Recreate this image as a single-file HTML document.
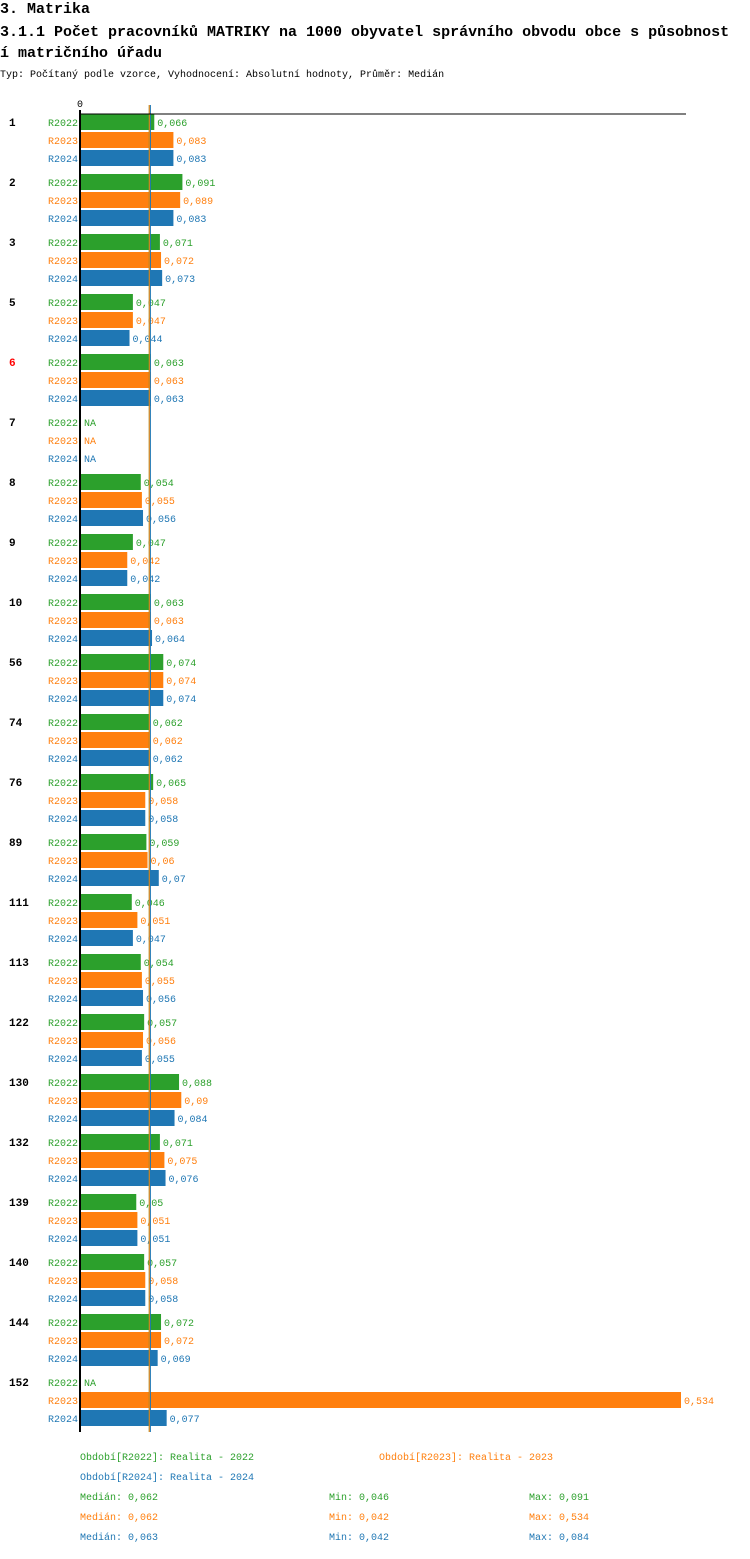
<!DOCTYPE html>
<html><head><meta charset="utf-8"><style>
body{margin:0;background:#fff;width:750px;height:1554px;overflow:hidden;font-family:"Liberation Mono","DejaVu Sans Mono",monospace}
svg text{font-family:"Liberation Mono","DejaVu Sans Mono",monospace}
</style></head><body>
<svg id="c" width="750" height="1554">
<text x="0" y="13" font-size="15" font-weight="bold">3. Matrika</text>
<text x="0" y="36" font-size="15" font-weight="bold">3.1.1 Počet pracovníků MATRIKY na 1000 obyvatel správního obvodu obce s působnost</text>
<text x="0" y="57" font-size="15" font-weight="bold">í matričního úřadu</text>
<text x="0" y="77" font-size="10">Typ: Počítaný podle vzorce, Vyhodnocení: Absolutní hodnoty, Průměr: Medián</text>
<g id="g"></g>
</svg>
<script>
const categories=["1","2","3","5","6","7","8","9","10","56","74","76","89","111","113","122","130","132","139","140","144","152"];
const series=["R2022","R2023","R2024"];
const colors=["#2ca02c","#ff7f0e","#1f77b4"];
const v2022=[0.066,0.091,0.071,0.047,0.063,null,0.054,0.047,0.063,0.074,0.062,0.065,0.059,0.046,0.054,0.057,0.088,0.071,0.05,0.057,0.072,null];
const v2023=[0.083,0.089,0.072,0.047,0.063,null,0.055,0.042,0.063,0.074,0.062,0.058,0.06,0.051,0.055,0.056,0.09,0.075,0.051,0.058,0.072,0.534];
const v2024=[0.083,0.083,0.073,0.044,0.063,null,0.056,0.042,0.064,0.074,0.062,0.058,0.07,0.047,0.056,0.055,0.084,0.076,0.051,0.058,0.069,0.077];
const medians=[0.062,0.062,0.063];
const mins=[0.046,0.042,0.042];
const maxs=[0.091,0.534,0.084];
const highlight="6";
const vals=[v2022,v2023,v2024];
const NS="http://www.w3.org/2000/svg";
const g=document.getElementById('g');
const x0=80,scale=601/0.534;
const X=v=>x0+v*scale;
const rowY=(i,s)=>122+i*60+s*18;
function el(t,a,txt){const e=document.createElementNS(NS,t);for(const k in a)e.setAttribute(k,a[k]);if(txt!=null)e.textContent=txt;g.appendChild(e);return e;}
const fmt=v=>String(v).replace('.',',');
categories.forEach((c,i)=>{
  const t=el('text',{x:9,y:rowY(i,0)+4,'font-size':11,'font-weight':'bold',fill:c===highlight?'#ff0000':'#000'},c);
  
  
  series.forEach((s,k)=>{
    const y=rowY(i,k),v=vals[k][i];
    const l=el('text',{x:78,y:y+4,'font-size':10,fill:colors[k],'text-anchor':'end'},s);
    
    
    if(v==null){
      const n=el('text',{x:84,y:y+4,'font-size':10,fill:colors[k]},'NA');
      
      
    }else{
      const r=el('rect',{x:x0,y:y-8,width:X(v)-x0,height:16,fill:colors[k]});
      
      
      const vt=el('text',{x:X(v)+3,y:y+4,'font-size':10,fill:colors[k]},fmt(v));
      
      
    }
  });
});
const yEnd=rowY(categories.length-1,2)+14;
medians.forEach((m,k)=>{
  const ln=el('line',{x1:X(m)-0.5,x2:X(m)-0.5,y1:105,y2:yEnd,stroke:colors[k],'stroke-width':1});
  
  
});
const ax=el('line',{x1:x0,x2:x0,y1:110,y2:yEnd,stroke:'#000','stroke-width':2});


const tl=el('line',{x1:x0,x2:686,y1:114,y2:114,stroke:'#000','stroke-width':1});


const z=el('text',{x:x0,y:107,'font-size':10,'text-anchor':'middle'},'0');


const legend=[[80,1460,0,'Období[R2022]: Realita - 2022'],[379,1460,1,'Období[R2023]: Realita - 2023'],[80,1480,2,'Období[R2024]: Realita - 2024']];
legend.forEach(([x,y,k,t])=>{const e=el('text',{x,y,'font-size':10,fill:colors[k]},t);
  
  });
series.forEach((s,k)=>{
  const y=1500+k*20;
  const a=el('text',{x:80,y,'font-size':10,fill:colors[k]},'Medián: '+fmt(medians[k]));
  
  
  const b=el('text',{x:329,y,'font-size':10,fill:colors[k]},'Min: '+fmt(mins[k]));
  
  
  const d=el('text',{x:529,y,'font-size':10,fill:colors[k]},'Max: '+fmt(maxs[k]));
  
  
});
</script>
</body></html>
